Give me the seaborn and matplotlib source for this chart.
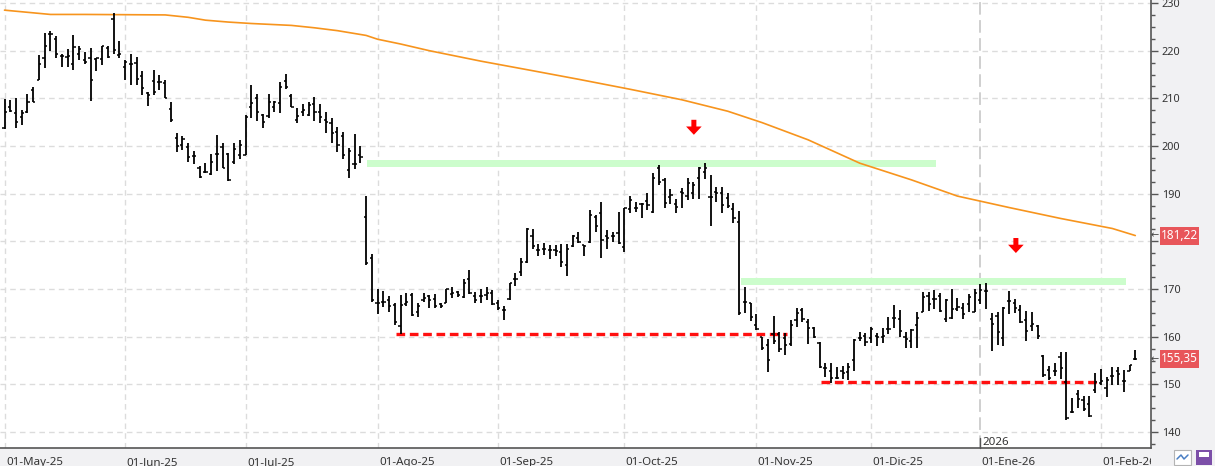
'''
Gráfico de barras OHLC diario con media de 200 sesiones, resistencias y soportes
'''

import pandas as pd
import seaborn as sns
import matplotlib
matplotlib.use('Agg')
import matplotlib.pyplot as plt
import matplotlib.transforms as mtransforms
from matplotlib.patches import Rectangle, Polygon
from matplotlib.ticker import MultipleLocator

# --- precios diarios (apertura, máximo, mínimo, cierre), desde 02-May-25
opens = [203.8, 208.1, 207.0, 206.1, 207.2, 211.7, 213.9, 218.4, 223.4, 222.4,
         218.8, 218.7, 217.3, 219.4, 218.0, 218.4, 218.2, 218.2, 220.5, 226.6,
         219.1, 216.6, 217.3, 217.5, 214.7, 211.1, 213.6, 213.4, 213.2, 207.8,
         201.7, 200.2, 199.7, 197.8, 195.3, 194.6, 194.1, 198.3, 199.7, 198.3,
         196.7, 198.1, 198.2, 208.1, 210.0, 206.5, 206.2, 208.2, 209.1, 213.7,
         210.5, 205.5, 207.2, 206.5, 208.9, 207.2, 205.5, 204.9, 203.0, 202.0,
         195.0, 196.2, 198.1, 185.2, 176.6, 167.0, 167.3, 167.6, 166.6, 162.2,
         166.8, 168.7, 165.2, 167.8, 168.5, 168.0, 166.8, 167.1, 169.0, 169.4,
         168.4, 172.0, 168.5, 168.5, 168.7, 169.1, 167.0, 165.5, 168.0, 172.0,
         173.6, 175.7, 181.1, 178.2, 178.5, 178.2, 178.2, 177.8, 175.0, 179.0,
         180.8, 179.2, 179.9, 185.2, 185.9, 181.1, 181.1, 181.7, 178.9, 186.7,
         186.9, 187.8, 188.5, 186.2, 195.3, 192.9, 189.4, 187.8, 190.4, 189.5,
         190.2, 193.2, 194.6, 189.2, 190.4, 190.2, 189.0, 186.7, 184.1, 167.3,
         167.0, 162.5, 160.0, 158.3, 160.5, 160.5, 159.8, 158.4, 163.5, 165.6,
         163.0, 161.9, 158.6, 153.4, 152.7, 151.4, 152.8, 152.5, 155.1, 159.8,
         160.2, 159.8, 160.2, 160.0, 161.6, 163.9, 163.7, 160.0, 159.0, 162.5,
         165.2, 168.6, 168.0, 168.6, 163.8, 163.9, 165.8, 166.1, 166.8, 165.2,
         167.7, 169.6, 163.7, 164.4, 159.8, 167.5, 167.0, 165.6, 163.5, 162.3,
         162.3, 156.0, 153.0, 152.7, 155.8, 150.5, 144.1, 147.9, 146.7, 145.8,
         148.8, 150.2, 149.2, 151.8, 152.7, 150.7, 152.8, 155.3]
highs = [209.9, 209.6, 210.0, 207.5, 211.0, 212.4, 219.1, 223.8, 224.1, 223.1,
         219.2, 220.3, 223.3, 221.0, 219.8, 220.6, 218.5, 220.9, 221.0, 227.8,
         222.0, 218.0, 219.4, 218.7, 215.7, 211.3, 215.9, 215.0, 213.8, 209.2,
         202.8, 202.2, 200.6, 199.0, 195.8, 196.5, 198.3, 202.3, 200.7, 198.6,
         200.6, 201.3, 206.5, 212.8, 210.9, 206.7, 210.9, 209.5, 213.5, 215.1,
         211.0, 207.9, 208.9, 209.3, 210.2, 208.9, 207.2, 205.8, 204.0, 203.0,
         199.5, 202.5, 199.9, 189.5, 177.3, 170.1, 169.6, 168.5, 167.1, 168.7,
         169.1, 169.1, 167.0, 169.2, 168.7, 169.0, 167.0, 170.1, 170.4, 169.6,
         172.0, 174.0, 169.4, 170.1, 170.4, 169.8, 167.8, 166.4, 171.3, 173.4,
         176.6, 182.7, 182.5, 179.4, 179.7, 179.2, 179.2, 179.4, 179.4, 181.3,
         182.0, 179.2, 186.6, 185.5, 188.3, 182.4, 182.0, 186.2, 187.1, 189.5,
         188.3, 188.1, 190.1, 194.4, 196.0, 193.2, 190.9, 188.8, 191.1, 193.2,
         192.5, 195.5, 196.5, 193.9, 191.5, 191.5, 190.1, 188.0, 186.4, 170.5,
         167.1, 164.7, 160.0, 159.6, 164.4, 160.9, 160.7, 163.5, 166.1, 166.1,
         163.7, 162.1, 158.8, 154.4, 154.4, 153.7, 153.9, 154.4, 159.5, 160.9,
         160.7, 162.1, 160.7, 161.9, 164.2, 166.6, 165.6, 160.9, 161.6, 165.1,
         169.3, 169.4, 169.8, 169.1, 168.0, 170.0, 168.2, 167.0, 168.9, 170.0,
         171.0, 171.2, 164.9, 165.1, 166.3, 169.6, 167.9, 166.6, 165.4, 165.2,
         162.5, 156.2, 153.9, 154.4, 156.7, 156.7, 147.2, 148.8, 147.6, 147.6,
         152.3, 153.2, 151.6, 153.7, 153.7, 153.0, 154.1, 157.2]
lows = [203.5, 207.2, 203.7, 204.5, 206.9, 209.2, 213.8, 216.3, 220.0, 218.5,
        216.6, 216.5, 215.9, 218.0, 217.1, 209.4, 215.8, 216.9, 218.5, 219.2,
        218.5, 213.8, 212.8, 212.8, 210.8, 208.3, 210.7, 211.7, 210.0, 205.1,
        198.8, 199.2, 196.7, 196.2, 193.2, 194.3, 193.9, 194.8, 195.3, 192.7,
        196.2, 197.2, 198.1, 205.8, 205.3, 203.7, 205.8, 207.2, 207.0, 211.9,
        208.1, 204.9, 206.2, 206.2, 205.3, 204.9, 202.8, 200.6, 198.8, 197.2,
        193.2, 195.1, 196.4, 175.0, 167.3, 164.8, 166.2, 165.2, 162.4, 160.6,
        166.4, 164.3, 164.1, 167.3, 166.1, 166.0, 166.0, 167.0, 168.1, 168.4,
        168.1, 169.0, 167.1, 167.0, 167.7, 166.6, 165.6, 163.4, 167.6, 170.6,
        172.7, 175.5, 178.5, 176.9, 177.1, 176.4, 176.9, 174.7, 172.7, 178.9,
        179.7, 176.9, 179.7, 182.0, 176.6, 178.5, 179.9, 179.5, 177.8, 186.0,
        186.2, 184.8, 186.6, 186.0, 191.8, 187.1, 187.8, 185.9, 186.9, 188.7,
        188.8, 188.8, 193.0, 183.2, 188.3, 186.0, 187.1, 183.9, 164.5, 164.9,
        163.2, 161.4, 157.2, 152.5, 158.4, 156.7, 156.2, 158.1, 162.1, 163.0,
        158.4, 159.8, 153.5, 151.6, 150.2, 151.1, 151.1, 150.9, 152.8, 159.1,
        158.1, 158.6, 158.1, 158.6, 160.5, 161.9, 160.0, 157.6, 157.6, 157.6,
        165.1, 165.4, 165.9, 165.1, 163.1, 163.7, 165.4, 163.7, 165.1, 165.1,
        166.8, 165.9, 156.9, 158.3, 158.1, 164.7, 164.9, 162.8, 159.1, 161.2,
        159.5, 151.6, 150.9, 151.8, 151.1, 142.5, 143.9, 145.1, 144.4, 143.2,
        148.1, 149.9, 147.4, 149.9, 149.9, 148.5, 152.7, 155.1]
closes = [207.1, 207.4, 205.0, 207.0, 209.3, 209.2, 217.3, 221.0, 223.4, 219.2,
          218.8, 218.9, 220.8, 220.3, 217.7, 213.8, 218.4, 220.9, 218.6, 220.1,
          219.2, 217.7, 217.3, 214.0, 212.2, 210.8, 211.3, 213.4, 210.1, 205.5,
          199.9, 201.5, 197.6, 197.8, 193.4, 194.6, 196.7, 198.3, 195.3, 192.9,
          199.3, 200.2, 206.1, 209.1, 207.2, 205.1, 209.3, 209.3, 212.3, 212.3,
          208.1, 206.3, 207.6, 208.6, 207.2, 206.1, 205.1, 202.8, 200.2, 198.1,
          199.0, 196.2, 197.6, 175.4, 167.7, 167.0, 167.3, 166.4, 163.1, 166.6,
          167.3, 164.5, 166.4, 168.2, 167.6, 166.4, 166.4, 169.9, 169.1, 168.7,
          171.3, 169.2, 167.6, 168.5, 169.1, 166.8, 166.0, 165.5, 171.2, 172.0,
          175.7, 182.5, 179.0, 178.2, 178.5, 178.2, 178.0, 175.7, 178.3, 181.1,
          179.9, 179.0, 185.5, 183.2, 180.3, 180.6, 181.1, 179.7, 186.9, 188.7,
          186.9, 187.8, 187.6, 193.2, 192.5, 188.1, 189.7, 187.3, 190.2, 192.2,
          191.8, 195.3, 195.3, 189.2, 190.2, 187.6, 187.4, 184.8, 164.9, 167.3,
          164.2, 161.7, 157.7, 155.1, 159.1, 157.4, 158.3, 162.5, 164.9, 163.7,
          161.9, 160.0, 153.7, 153.4, 151.3, 151.4, 152.3, 153.7, 159.3, 159.8,
          158.8, 161.6, 160.0, 160.2, 161.6, 164.0, 161.1, 159.6, 161.4, 164.0,
          168.4, 166.8, 168.0, 165.4, 167.7, 165.8, 166.3, 164.7, 168.4, 169.1,
          169.8, 169.6, 162.6, 160.9, 166.1, 167.5, 166.1, 163.0, 161.1, 162.6,
          160.2, 152.0, 151.4, 152.7, 153.5, 143.0, 144.1, 146.9, 144.8, 143.4,
          150.4, 150.7, 150.9, 151.8, 152.1, 150.7, 154.0, 155.35]

# --- media móvil de 200 sesiones (leída cada pocas sesiones)
ma_idx = [0, 8, 14, 28, 32, 35, 39, 43, 50, 54, 58, 63, 65, 69, 74, 83, 92,
          100, 109, 118, 126, 132, 140, 149, 158, 166, 175, 184, 193, 197]
ma_vals = [228.5, 227.6, 227.6, 227.5, 227.0, 226.4, 226.0, 225.7, 225.3, 224.8,
           224.2, 223.2, 222.4, 221.4, 220.0, 217.8, 215.8, 214.0, 211.9, 209.7,
           207.3, 204.9, 201.3, 196.4, 192.9, 189.5, 187.1, 184.8, 182.7, 181.22]

# --- calendario de sesiones
festivos = ['2025-12-24', '2025-12-25', '2025-12-26', '2025-12-31', '2026-01-01']
dates = pd.bdate_range('2025-05-02', '2026-02-10')
dates = dates[~dates.isin(pd.to_datetime(festivos))][:len(closes)]
meses = {1: 'Ene', 2: 'Feb', 3: 'Mar', 4: 'Abr', 5: 'May', 6: 'Jun',
         7: 'Jul', 8: 'Ago', 9: 'Sep', 10: 'Oct', 11: 'Nov', 12: 'Dic'}

# --- niveles dibujados (sesión inicio, sesión fin, precio)
resistencias = [(63.1, 162.3, 195.5, 197.1), (128.3, 195.4, 170.9, 172.4)]
soportes = [(68.2, 136.3, 160.5), (142.3, 191.1, 150.4)]
flechas = [(120.1, 205.5), (176.2, 180.7)]
ultimos = [ma_vals[-1], closes[-1]]

df = pd.DataFrame({'date': dates, 'open': opens, 'high': highs,
                   'low': lows, 'close': closes})
df['i'] = range(len(df))

sns.set_theme(style='white')
plt.rcParams['font.family'] = ['Noto Sans', 'DejaVu Sans']

W, H = 1215, 466
fig = plt.figure(figsize=(W / 100, H / 100), dpi=100, facecolor='#f1f1f3')
ax = fig.add_axes([0, 18 / H, 1151 / W, 448 / H])
ax.set_facecolor('white')

px_x = 5.74    # pixels por sesión
px_y = 4.767   # pixels por unidad de precio
ax.set_xlim(-0.784, 199.74)
ax.set_ylim(136.65, 230.63)

# rejilla
month_first = df.groupby([df.date.dt.year, df.date.dt.month])['i'].first()
month_pos = list(month_first.values)
month_lab = [f"01-{meses[m]}-{str(y)[2:]}" for (y, m) in month_first.index]
for pos, lab in zip(month_pos, month_lab):
    if lab.startswith('01-Ene'):
        ax.axvline(pos, color='#cccccc', lw=1.3, ls=(0, (7, 3)), zorder=0)
    else:
        ax.axvline(pos, color='#dcdcdc', lw=1.0, ls=(0, (4, 3)), zorder=0)
for v in range(140, 231, 10):
    ax.axhline(v, color='#dcdcdc', lw=1.0, ls=(0, (4, 3)), zorder=0)

# resistencias y soportes
for x0, x1, lo, hi in resistencias:
    ax.fill_between([x0, x1], lo, hi, color='#ccfdcc', lw=0, zorder=1)
for x0, x1, v in soportes:
    ax.plot([x0, x1], [v, v], color='#ff1010', lw=2.4, ls=(0, (2.6, 1.4)),
            solid_capstyle='butt', zorder=2)

# media móvil
sns.lineplot(x=ma_idx, y=ma_vals, ax=ax, color='#f7941d', lw=1.2, zorder=3)

# barras OHLC
ax.vlines(df.i, df.low, df.high, color='black', lw=1.3, zorder=4)
ax.hlines(df.open, df.i - 0.38, df.i, color='black', lw=1.1, zorder=4)
ax.hlines(df.close, df.i, df.i + 0.38, color='black', lw=1.1, zorder=4)

# flechas rojas
for xa, top in flechas:
    sw, hw = 2.5 / px_x, 7.8 / px_x
    sl, hl = 6.7 / px_y, 8.3 / px_y
    pts = [(xa - sw, top), (xa + sw, top), (xa + sw, top - sl),
           (xa + hw, top - sl), (xa, top - sl - hl), (xa - hw, top - sl),
           (xa - sw, top - sl)]
    ax.add_patch(Polygon(pts, closed=True, color='#ff0000', lw=0, zorder=5))

# ejes
for s in ['left', 'top']:
    ax.spines[s].set_visible(False)
for s in ['right', 'bottom']:
    ax.spines[s].set_color('#555555')
    ax.spines[s].set_linewidth(1.2)

# la etiqueta 180 queda tapada por la del último valor de la media
yticks = list(range(140, 231, 10))
ax.yaxis.tick_right()
ax.set_yticks(yticks)
ax.set_yticklabels(['' if v == 180 else str(v) for v in yticks])
ax.yaxis.set_minor_locator(MultipleLocator(2.5))
ax.tick_params(axis='y', which='major', direction='out', length=4.8, width=1,
               color='#555555', labelsize=7.8, labelcolor='#333333', pad=3)
ax.tick_params(axis='y', which='minor', direction='out', length=2.7, width=1,
               color='#555555', right=True, left=False)
ax.set_xticks(month_pos)
ax.tick_params(axis='x', which='major', direction='out', length=7, width=1,
               color='#555555', labelbottom=False)
ax.set_xlabel('')
ax.set_ylabel('')

clip = mtransforms.TransformedBbox(mtransforms.Bbox([[0, 0], [1151 / W, 1]]),
                                   fig.transFigure)
xt = ax.get_xaxis_transform()
for pos, lab in zip(month_pos, month_lab):
    t = ax.text(pos + 0.25, -17 / 448, lab, transform=xt, ha='left',
                va='baseline', fontsize=8.3, color='#333333')
    t.set_clip_on(True)
    t.set_clip_box(clip)

# marca de año
ene = month_pos[month_lab.index('01-Ene-26')]
ax.plot([ene, ene], [0, 10 / 448], transform=xt, color='#555555', lw=1,
        clip_on=False, zorder=6)
ax.text(ene + 0.35, 3 / 448, '2026', transform=xt, ha='left', va='baseline',
        fontsize=8.3, color='#333333')

# etiquetas de último valor
yt = mtransforms.blended_transform_factory(fig.transFigure, ax.transData)
for v in ultimos:
    fig.add_artist(Rectangle((1160 / W, v - 9 / px_y), 39 / W, 18 / px_y,
                             transform=yt, color='#e8565a', lw=0, zorder=5))
    fig.text(1179.5 / W, v, f"{v:.2f}".replace('.', ','), transform=yt,
             ha='center', va='center', fontsize=8.5, color='white', zorder=6)
    fig.text(1155 / W, v, '\u2190', transform=yt, ha='center', va='center',
             fontsize=7, color='#444444', family='DejaVu Sans', zorder=6)

# iconos de la barra inferior
fig.add_artist(Rectangle((1174 / W, 1 / H), 17 / W, 15 / H,
                         transform=fig.transFigure, fc='white', ec='#b4b4b4',
                         lw=0.8))
fig.add_artist(plt.Line2D([1177 / W, 1181 / W, 1184 / W, 1188 / W],
                          [7 / H, 11 / H, 7 / H, 11 / H],
                          transform=fig.transFigure, color='#4a7fc4', lw=1.1))
fig.add_artist(Rectangle((1196 / W, 1 / H), 16 / W, 15 / H,
                         transform=fig.transFigure, fc='#7c4fa8', lw=0))
fig.add_artist(Rectangle((1199 / W, 9 / H), 10 / W, 5 / H,
                         transform=fig.transFigure, fc='white', lw=0))

fig.savefig('out.png', dpi=100, facecolor=fig.get_facecolor())
